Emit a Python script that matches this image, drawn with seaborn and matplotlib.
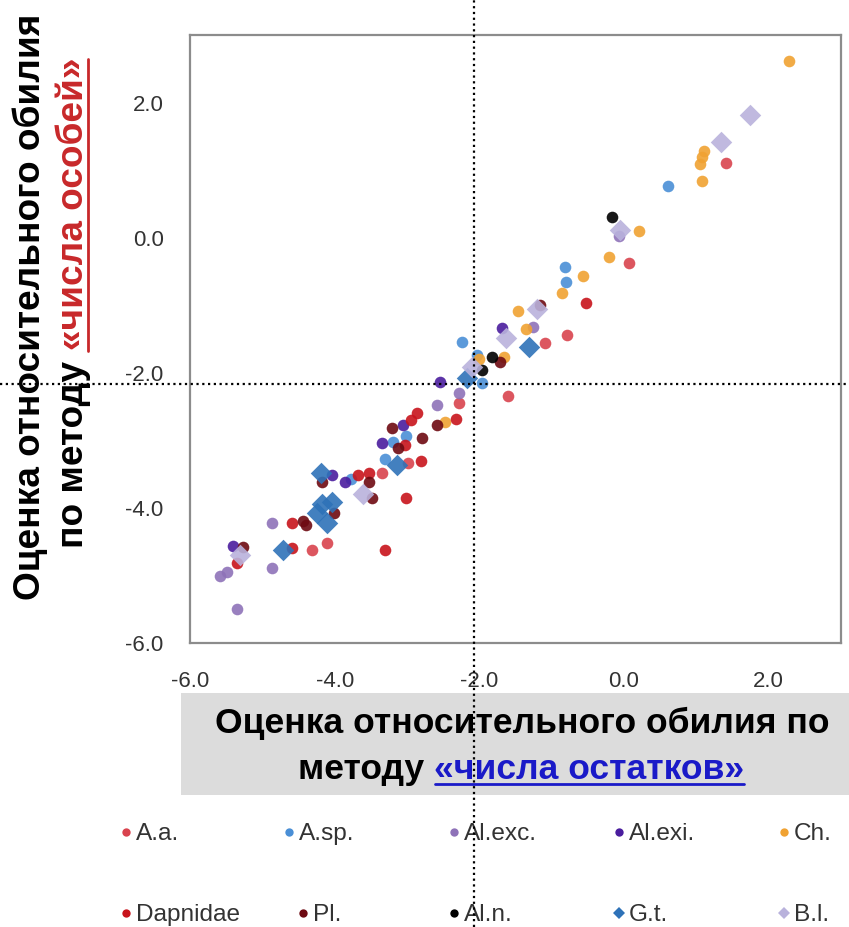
import numpy as np
import pandas as pd
import matplotlib
matplotlib.use("Agg")
import matplotlib.pyplot as plt
import seaborn as sns
from matplotlib.lines import Line2D
from matplotlib.patches import Rectangle
from matplotlib.transforms import IdentityTransform, blended_transform_factory
from matplotlib.ticker import FormatStrFormatter
from matplotlib.font_manager import FontProperties

sns.set_style("white")
plt.rcParams["font.family"] = ["Liberation Sans", "DejaVu Sans"]
plt.rcParams["axes.unicode_minus"] = False

# ---------------- data ----------------
groups = ["A.a.", "A.sp.", "Al.exc.", "Al.exi.", "Ch.",
          "Dapnidae", "Pl.", "Al.n.", "G.t.", "B.l."]
colors = ["#d9434e", "#4a8fd6", "#8e72b8", "#4a1d9e", "#f0a232",
          "#c8141c", "#6e0a12", "#000000", "#2e72b8", "#b9b2dc"]
markers = ["o", "o", "o", "o", "o", "o", "o", "o", "D", "D"]

aa_x = [1.41, 0.07, -0.79, -1.09, -1.61, -2.28, -2.99, -3.34, -4.32, -4.10]
aa_y = [1.10, -0.37, -1.44, -1.56, -2.35, -2.44, -3.34, -3.49, -4.63, -4.52]

asp_x = [0.61, -0.81, -0.80, -2.24, -2.03, -1.97, -3.20, -3.01, -3.31, -3.78]
asp_y = [0.76, -0.43, -0.66, -1.54, -1.74, -2.15, -3.03, -2.94, -3.28, -3.57]

alexc_x = [-0.07, -1.26, -2.28, -2.58, -4.86, -5.59, -5.49, -4.86, -5.35]
alexc_y = [0.03, -1.32, -2.30, -2.48, -4.23, -5.01, -4.95, -4.89, -5.50]

alexi_x = [-1.69, -2.55, -3.06, -3.34, -4.03, -3.86, -5.41]
alexi_y = [-1.34, -2.14, -2.78, -3.04, -3.51, -3.62, -4.56]

ch_x = [2.28, 1.10, 1.08, 1.05, 1.08, 0.21, -0.21, -0.56, -0.86, -1.46, -1.35, -2.00, -1.66, -2.48]
ch_y = [2.61, 1.28, 1.19, 1.09, 0.84, 0.10, -0.28, -0.57, -0.82, -1.09, -1.35, -1.80, -1.77, -2.73]

dap_x = [-0.52, -2.86, -2.32, -2.94, -3.03, -2.80, -3.68, -3.52, -3.01, -4.59, -5.35, -4.59, -3.31]
dap_y = [-0.96, -2.60, -2.69, -2.70, -3.07, -3.31, -3.52, -3.49, -3.86, -4.22, -4.81, -4.60, -4.63]

pl_x = [-1.16, -1.72, -2.58, -3.21, -2.79, -3.13, -4.17, -3.52, -3.48, -4.01, -4.44, -4.39, -5.27]
pl_y = [-0.99, -1.84, -2.78, -2.82, -2.96, -3.12, -3.61, -3.62, -3.86, -4.08, -4.19, -4.25, -4.58]

aln_x = [-0.17, -1.82, -1.96]
aln_y = [0.30, -1.77, -1.96]

gt_x = [-1.31, -2.17, -3.14, -4.19, -4.17, -4.25, -4.03, -4.10, -4.72]
gt_y = [-1.62, -2.08, -3.37, -3.49, -3.94, -4.08, -3.92, -4.23, -4.63]

bl_x = [1.74, 1.34, -0.06, -1.20, -1.63, -2.10, -3.61, -5.31]
bl_y = [1.81, 1.42, 0.12, -1.05, -1.48, -1.92, -3.80, -4.69]

xs = [aa_x, asp_x, alexc_x, alexi_x, ch_x, dap_x, pl_x, aln_x, gt_x, bl_x]
ys = [aa_y, asp_y, alexc_y, alexi_y, ch_y, dap_y, pl_y, aln_y, gt_y, bl_y]

x_ticks = [-6.0, -4.0, -2.0, 0.0, 2.0]
y_ticks = [-6.0, -4.0, -2.0, 0.0, 2.0]
v_ref = -2.08
h_ref = -2.16

ylabel_1 = "Оценка относительного обилия"
ylabel_2 = ["по методу ", "«числа особей»"]
xlabel_1 = "Оценка относительного обилия по"
xlabel_2 = ["методу ", "«числа остатков»"]

frames = []
for g, xv, yv in zip(groups, xs, ys):
    frames.append(pd.DataFrame({"x": xv, "y": yv, "group": g}))
df = pd.concat(frames, ignore_index=True)

# ---------------- figure ----------------
W, H = 849, 927
fig = plt.figure(figsize=(W / 100, H / 100), dpi=100)
fig.patch.set_facecolor("white")
ax = fig.add_axes([190 / W, (H - 643) / H, (841 - 190) / W, (643 - 35) / H])

for g, c, m in zip(groups, colors, markers):
    sub = df[df["group"] == g]
    sns.scatterplot(data=sub, x="x", y="y", color=c, marker=m,
                    s=120 if m == "D" else 70, linewidth=0, alpha=0.9,
                    ax=ax, legend=False, zorder=3)

ax.set_xlim(-6, 3)
ax.set_ylim(-6, 3)
ax.set_xticks(x_ticks)
ax.set_yticks(y_ticks)
ax.xaxis.set_major_formatter(FormatStrFormatter("%.1f"))
ax.yaxis.set_major_formatter(FormatStrFormatter("%.1f"))
ax.set_xlabel("")
ax.set_ylabel("")
for sp in ax.spines.values():
    sp.set_color("#8c8c8c")
    sp.set_linewidth(1.6)
    sp.set_visible(True)
ax.tick_params(axis="both", direction="out", length=7, width=1.3,
               color="#8c8c8c", labelsize=16, labelcolor="#333333")
ax.tick_params(axis="x", pad=13)
ax.tick_params(axis="y", pad=12)
ax.grid(False)

renderer = fig.canvas.get_renderer()
ID = IdentityTransform()

# gray box behind x label
fig.patches.append(Rectangle((181, H - 795), W - 181, 102, transform=ID,
                             facecolor="#dcdcdc", edgecolor="none", zorder=0.5))


def text_width(s, size, weight="bold"):
    fp = FontProperties(family="Liberation Sans", weight=weight, size=size)
    t = fig.text(0, 0, s, fontproperties=fp, transform=ID)
    w = t.get_window_extent(renderer).width
    t.remove()
    return w


def fit_size(s, target, weight="bold"):
    return 20.0 * target / text_width(s, 20.0, weight)


def line_h(parts, cx, baseline, fs, underline):
    """horizontal line of coloured parts, centred at cx, baseline in top-origin pixels"""
    fp = FontProperties(family="Liberation Sans", weight="bold", size=fs)
    full = "".join(p[0] for p in parts)
    L = text_width(full, fs)
    Y = H - baseline
    fig.text(cx - L / 2, Y, parts[0][0], color=parts[0][1], ha="left", va="baseline",
             fontproperties=fp, transform=ID, zorder=4)
    if len(parts) > 1:
        t2 = fig.text(cx + L / 2, Y, parts[1][0], color=parts[1][1], ha="right", va="baseline",
                      fontproperties=fp, transform=ID, zorder=4)
        if underline:
            b2 = t2.get_window_extent(renderer)
            ly = Y - 0.2 * fs
            fig.add_artist(Line2D([b2.x0 + 1, b2.x1], [ly, ly], transform=ID,
                                  color=parts[1][1], lw=2, zorder=4))


def line_v(parts, baseline_x, cy, fs, underline):
    """vertical (rotated 90) line, centred at cy (top-origin px), baseline at baseline_x"""
    fp = FontProperties(family="Liberation Sans", weight="bold", size=fs)
    full = "".join(p[0] for p in parts)
    L = text_width(full, fs)
    y0 = H - (cy + L / 2)
    fig.text(baseline_x, y0, parts[0][0], color=parts[0][1], ha="left", va="baseline",
             rotation=90, rotation_mode="anchor", fontproperties=fp, transform=ID, zorder=4)
    if len(parts) > 1:
        t2 = fig.text(baseline_x, y0 + L, parts[1][0], color=parts[1][1], ha="right",
                      va="baseline", rotation=90, rotation_mode="anchor",
                      fontproperties=fp, transform=ID, zorder=4)
        if underline:
            b2 = t2.get_window_extent(renderer)
            lx = baseline_x + 0.2 * fs
            fig.add_artist(Line2D([lx, lx], [b2.y0, b2.y1 - 1], transform=ID,
                                  color=parts[1][1], lw=2, zorder=4))


fs_y = fit_size(ylabel_1, 585)
fs_x = fit_size(xlabel_1, 614)

line_v([(ylabel_1, "black")], 40, 307, fs_y, False)
line_v([(ylabel_2[0], "black"), (ylabel_2[1], "#c8282a")], 83, 303, fs_y, True)

line_h([(xlabel_1, "black")], 522, 733, fs_x, False)
line_h([(xlabel_2[0], "black"), (xlabel_2[1], "#1a1ac8")], 521, 779, fs_x, True)

# legend (manual placement, 2 rows x 5 columns)
fs_leg = fit_size("Dapnidae", 104, weight="normal")
leg_pos = [(126, 832), (289, 832), (454, 832), (619, 832), (784, 832),
           (126, 913), (303, 913), (454, 913), (619, 913), (784, 913)]
for g, c, m, (px, py) in zip(groups, colors, markers, leg_pos):
    fig.add_artist(Line2D([px], [H - py], transform=ID, marker=m,
                          color=c, markersize=6.5 if m == "D" else 6, linestyle="none",
                          markeredgewidth=0))
    fig.text(px + 10, H - py - 8, g, fontsize=fs_leg, color="#333333", ha="left",
             va="baseline", transform=ID)

# dotted reference lines spanning the whole figure
vt = blended_transform_factory(ax.transData, fig.transFigure)
fig.add_artist(Line2D([v_ref, v_ref], [0, 1], transform=vt, color="black",
                      lw=1.6, linestyle=(0, (1, 1.6)), zorder=10))
ht = blended_transform_factory(fig.transFigure, ax.transData)
fig.add_artist(Line2D([0, 1], [h_ref, h_ref], transform=ht, color="black",
                      lw=1.6, linestyle=(0, (1, 1.6)), zorder=10))

fig.savefig("out.png", dpi=100)
